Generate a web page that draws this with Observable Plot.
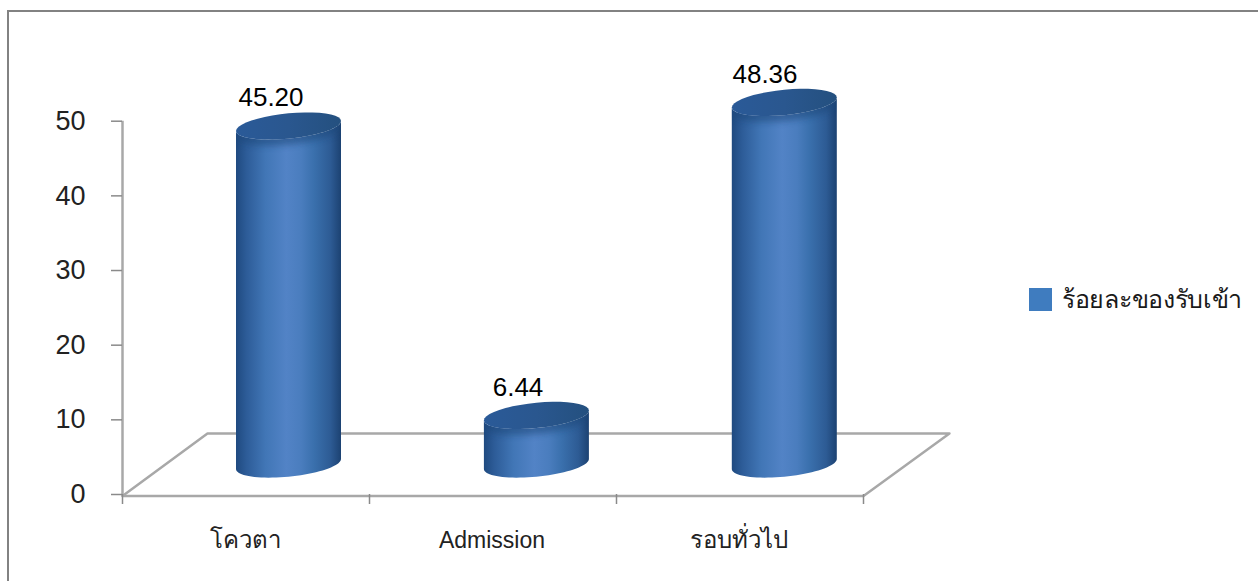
<!DOCTYPE html>
<html>
<head>
<meta charset="utf-8">
<script src="https://cdn.jsdelivr.net/npm/d3@7"></script>
<script src="https://cdn.jsdelivr.net/npm/@observablehq/plot@0.6"></script>
<style>
  html, body { margin: 0; padding: 0; background: #fff; overflow: hidden; }
  #wrap { position: relative; width: 1258px; height: 581px; font-family: "Liberation Sans", "Noto Sans", sans-serif; }
  #frame { position: absolute; left: 7px; top: 10px; right: -4px; bottom: -4px; border: 2px solid #828282; }
  #legendSwatch { position: absolute; left: 1029px; top: 288px; width: 23px; height: 23px; background: #3f7cbf; }
  #legendText { position: absolute; left: 1062px; top: 279px; font-size: 25px; letter-spacing: -0.3px; color: #1a1a1a; white-space: nowrap; }
  svg { position: absolute; left: 0; top: 0; }
</style>
</head>
<body>
<div id="wrap"><div id="frame"></div><div id="legendSwatch"></div><div id="legendText"></div></div>
<script>
const categories = ["โควตา", "Admission", "รอบทั่วไป"];
const values = [45.20, 6.44, 48.36];
const valueLabels = ["45.20", "6.44", "48.36"];
const seriesName = "ร้อยละของรับเข้า";
const yTicks = [0, 10, 20, 30, 40, 50];
const xEdges = [0, 1, 2, 3];
// the perspective floor, in chart units (category slots, percent)
const floorX = [0, 0.344, 3.348, 3];
const floorY = [-0.2, 8.17, 8.17, -0.2];

const table = categories.map((c, i) => ({category: c, slot: i, value: values[i], label: valueLabels[i]}));

function cylinders(index, scales) {
  const g = d3.create("svg:g");
  const defs = g.append("defs");
  const body = defs.append("linearGradient").attr("id", "cylBody");
  [[0, "#1f4a80"], [0.1, "#2d5c98"], [0.28, "#4176b6"], [0.48, "#5283c6"], [0.62, "#4a7dbe"], [0.74, "#3a70ad"], [0.9, "#2d5b94"], [1, "#1c4272"]]
    .forEach(([o, c]) => body.append("stop").attr("offset", o).attr("stop-color", c));
  const top = defs.append("linearGradient").attr("id", "cylTop");
  [[0, "#2a5a98"], [0.5, "#2a578f"], [1, "#24507f"]]
    .forEach(([o, c]) => top.append("stop").attr("offset", o).attr("stop-color", c));
  defs.append("filter").attr("id", "cylSoft").attr("x", "-20%").attr("y", "-60%").attr("width", "140%").attr("height", "220%")
    .append("feGaussianBlur").attr("stdDeviation", 3);
  const a = 52.5, b = 12.7, s = -5 / 52.5;
  const ring = (cx, cy, from, to) => d3.range(0, 41).map(k => {
    const t = from + (to - from) * k / 40;
    return [cx + a * Math.cos(t), cy + b * Math.sin(t) + s * a * Math.cos(t)];
  });
  const line = d3.line();
  for (const i of index) {
    const d = table[i];
    const cx = scales.x(d.slot + 0.5) + 43 + d.slot * 0.9;
    const yTop = scales.y(d.value) - 30.5;
    const yBase = scales.y(0) - 30;
    const outline = line([...ring(cx, yBase, Math.PI, 0), ...ring(cx, yTop, 0, Math.PI)]) + "Z";
    const disc = line(ring(cx, yTop, 0, 2 * Math.PI)) + "Z";
    const clipId = `cylClip${i}`;
    defs.append("clipPath").attr("id", clipId).append("path").attr("d", outline);
    g.append("path").attr("d", outline).attr("fill", "url(#cylBody)");
    g.append("g").attr("clip-path", `url(#${clipId})`)
      .append("path").attr("d", disc).attr("transform", "translate(0,6)")
      .attr("fill", "#1d4678").attr("opacity", 0.55).attr("filter", "url(#cylSoft)");
    g.append("path").attr("d", disc).attr("fill", "url(#cylTop)");
  }
  return g.node();
}

const chart = Plot.plot({
  width: 1258,
  height: 581,
  marginLeft: 122,
  marginRight: 395,
  marginTop: 120.7,
  marginBottom: 87,
  style: {background: "transparent", fontFamily: '"Liberation Sans", "Noto Sans", sans-serif', overflow: "visible"},
  x: {domain: [0, 3], axis: null},
  y: {domain: [0, 50], axis: null},
  marks: [
    Plot.line(floorX.map((x, i) => ({x, y: floorY[i]})), {x: "x", y: "y", stroke: "#a8a8a8", strokeWidth: 2.5}),
    Plot.ruleY([-0.2], {x1: 0, x2: 3, stroke: "#a8a8a8", strokeWidth: 2.5}),
    Plot.ruleX([0], {y1: -0.2, y2: 50, stroke: "#a8a8a8", strokeWidth: 2.5}),
    Plot.axisY({ticks: yTicks, anchor: "left", tickSize: 11, tickPadding: 26, stroke: "#8a8a8a", strokeWidth: 1.5, fontSize: 27, fill: "#222", label: null}),
    Plot.axisX({ticks: xEdges, anchor: "bottom", tickSize: 10, tickFormat: () => "", stroke: "#8a8a8a", strokeWidth: 1.5, label: null}),
    Plot.rectY(table, {x1: "slot", x2: d => d.slot + 1, y: "value", render: cylinders}),
    Plot.text(table.filter(d => d.slot !== 1), {x: d => d.slot + 0.5, y: 0, text: "category", dy: 46, fontSize: 24, fill: "#222", dx: -1}),
    Plot.text(table.filter(d => d.slot === 1), {x: d => d.slot + 0.5, y: 0, text: "category", dy: 46, fontSize: 23, fill: "#222", dx: -1}),
    Plot.text(table, {x: d => d.slot + 0.5, y: "value", text: "label", dx: 25, dy: -59, fontSize: 26, fill: "#000"})
  ]
});
document.getElementById("wrap").appendChild(chart);
document.getElementById("legendText").textContent = seriesName;
</script>
</body>
</html>
